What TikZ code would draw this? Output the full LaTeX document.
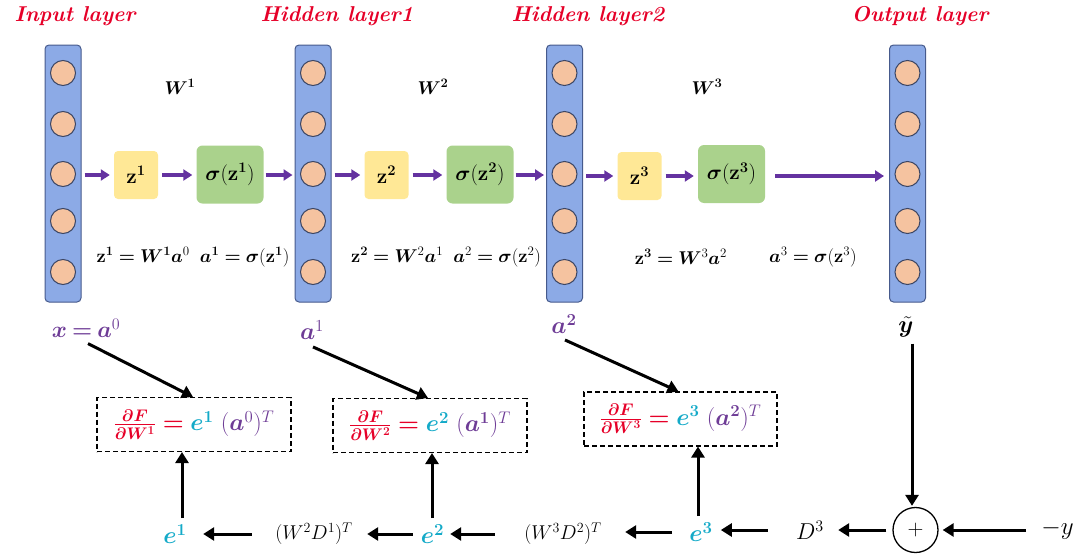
\RequirePackage{fix-cm}
\documentclass[tikz,border=0pt]{standalone}
\usepackage{amsmath,bm}
\usetikzlibrary{arrows.meta}
\definecolor{titlered}{RGB}{230,0,40}
\definecolor{arrpurple}{RGB}{100,50,160}
\definecolor{txtpurple}{RGB}{110,60,150}
\definecolor{ecyan}{RGB}{20,170,200}
\definecolor{barfill}{RGB}{140,170,230}
\definecolor{barline}{RGB}{70,90,140}
\definecolor{nfill}{RGB}{245,195,160}
\definecolor{nline}{RGB}{60,70,100}
\definecolor{zyellow}{RGB}{255,232,150}
\definecolor{sgreen}{RGB}{170,210,140}
\newcommand\myfs[1]{\fontsize{#1}{#1}\selectfont}
\tikzset{
 bar/.style={draw=barline, fill=barfill, rounded corners=4pt, minimum width=36pt, minimum height=257pt, line width=1pt, inner sep=0pt},
 neuron/.style={circle, draw=nline, fill=nfill, minimum size=25pt, inner sep=0pt, line width=1pt},
 zbox/.style={fill=zyellow, rounded corners=4pt, minimum width=44pt, minimum height=48pt, font=\myfs{21}},
 sbox/.style={fill=sgreen, rounded corners=6pt, minimum width=67pt, minimum height=58pt, font=\myfs{21}},
 parr/.style={draw=arrpurple, line width=3.5pt, -{Triangle[length=9pt,width=11pt]}},
 barr/.style={draw=black, line width=3pt, -{Triangle[length=11pt,width=13pt]}},
 title/.style={text=titlered, font=\myfs{21.5}\bfseries\itshape},
 dbox/.style={draw, dash pattern=on 5pt off 3pt, line width=1.1pt, minimum width=194pt, minimum height=54pt, inner sep=0pt, font=\myfs{24}},
 lbl/.style={inner sep=0pt, font=\myfs{20}},
 blbl/.style={inner sep=0pt, font=\myfs{24}},
 eqn/.style={inner sep=0pt, font=\myfs{18.5}},
}
\begin{document}
\begin{tikzpicture}[x=1pt,y=-1pt]
\useasboundingbox (0,0) rectangle (1080,557);
% titles
\node[title] (t0) at (75,16) {Input layer};
\node[title] (t1) at (337,16) {Hidden layer1};
\node[title] (t2) at (588,16) {Hidden layer2};
\node[title] (t3) at (920,16) {Output layer};
% bars
\foreach \n/\x in {L0/63,L1/313,L2/564.5,L3/907.5}{
  \node[bar] (\n) at (\x,173.5) {};
  \foreach \i/\y in {1/73,2/124,3/174,4/221,5/272}{
    \node[neuron] (\n c\i) at (\x,\y) {};
  }
}
% weight labels
\node[eqn] (w1) at (180,87) {$\bm{W}^{\mathbf 1}$};
\node[eqn] (w2) at (433,87) {$\bm{W}^{\mathbf 2}$};
\node[eqn] (w3) at (707,87) {$\bm{W}^{\mathbf 3}$};
% boxes
\node[zbox] (z1) at (136,175) {$\mathbf{z}^{\mathbf{1}}$};
\node[sbox] (s1) at (230,174.5) {$\bm{\sigma}(\mathbf{z}^{\mathbf{1}})$};
\node[zbox] (z2) at (386.5,175) {$\mathbf{z}^{\mathbf{2}}$};
\node[sbox] (s2) at (480,174.5) {$\bm{\sigma}(\mathbf{z}^{\mathbf{2}})$};
\node[zbox] (z3) at (639.5,176) {$\mathbf{z}^{\mathbf{3}}$};
\node[sbox] (s3) at (731.5,174) {$\bm{\sigma}(\mathbf{z}^{\mathbf{3}})$};
% purple arrows
\draw[parr, shorten <=3pt, shorten >=4pt] (L0.east |- z1) -- (z1.west);
\draw[parr, shorten <=4pt, shorten >=4pt] (z1.east) -- (s1.west |- z1);
\draw[parr, shorten <=2pt, shorten >=2pt] (s1.east |- z1) -- (L1.west |- z1);
\draw[parr, shorten <=3pt, shorten >=4pt] (L1.east |- z2) -- (z2.west);
\draw[parr, shorten <=4pt, shorten >=4pt] (z2.east) -- (s2.west |- z2);
\draw[parr, shorten <=2pt, shorten >=2pt] (s2.east |- z2) -- (L2.west |- z2);
\draw[parr, shorten <=3pt, shorten >=4pt] (L2.east |- z3) -- (z3.west);
\draw[parr, shorten <=4pt, shorten >=4pt] (z3.east) -- (s3.west |- z3);
\draw[parr, shorten <=10pt, shorten >=5pt] (s3.east |- z3) -- (L3.west |- z3);
% equations
\node[eqn] (e1q) at (193,257) {$\mathbf{z}^{\mathbf 1}\bm{=}\bm{W}^{\mathbf 1}\bm{a}^{0}\;\; \bm{a}^{\mathbf 1}\bm{=}\bm{\sigma}(\mathbf{z}^{\mathbf 1})$};
\node[eqn] (e2q) at (446,257) {$\mathbf{z}^{\mathbf 2}\bm{=}\bm{W}^{2}\bm{a}^{1}\;\; \bm{a}^{2}\bm{=}\bm{\sigma}(\mathbf{z}^{2})$};
\node[eqn] (e3q) at (681,257) {$\mathbf{z}^{\mathbf 3}\bm{=}\bm{W}^{3}\bm{a}^{2}$};
\node[eqn] (e4q) at (813,257) {$\bm{a}^{3}\bm{=}\bm{\sigma}(\mathbf{z}^{3})$};
% bottom labels
\node[blbl, font=\myfs{23}, text=txtpurple] (xa) at (86,328) {$\bm{x}\mathbin{\bm{=}}\bm{a}^{0}$};
\node[blbl, text=txtpurple] (a1) at (312,330) {$\bm{a}^{1}$};
\node[blbl, text=txtpurple] (a2) at (564,324) {$\bm{a}^{\mathbf 2}$};
\node[blbl] (yt) at (906,327) {$\tilde{\bm{y}}$};
% dashed boxes
\node[dbox] (b1) at (194,424.5) {$\color{titlered}\frac{\bm{\partial F}}{\bm{\partial W}^{\mathbf 1}}\bm{=}\color{ecyan}\bm{e}^{\mathbf 1}\ \color{txtpurple}(\bm{a}^{0})^{T}$};
\node[dbox] (b2) at (430,425.5) {$\color{titlered}\frac{\bm{\partial F}}{\bm{\partial W}^{\mathbf 2}}\bm{=}\color{ecyan}\bm{e}^{\mathbf 2}\ \color{txtpurple}(\bm{a}^{\mathbf 1})^{T}$};
\node[dbox, minimum width=193pt] (b3) at (680.5,419) {$\color{titlered}\frac{\bm{\partial F}}{\bm{\partial W}^{\mathbf 3}}\bm{=}\color{ecyan}\bm{e}^{\mathbf 3}\ \color{txtpurple}(\bm{a}^{\mathbf 2})^{T}$};
% bottom row
\node[blbl, text=ecyan, minimum width=24pt] (e1) at (175,534) {$\bm{e}^{\mathbf 1}$};
\node[lbl, minimum width=92pt] (wd1) at (314,534) {$(W^{2}D^{1})^{T}$};
\node[blbl, text=ecyan, minimum width=25pt] (e2) at (432.5,534) {$\bm{e}^{\mathbf 2}$};
\node[lbl, minimum width=100pt] (wd2) at (563,534) {$(W^{3}D^{2})^{T}$};
\node[blbl, text=ecyan, minimum width=22pt] (e3) at (701,532) {$\bm{e}^{\mathbf 3}$};
\node[lbl, font=\myfs{23}, minimum width=30pt] (d3) at (810,530) {$D^{3}$};
\node[circle, draw, line width=1.3pt, minimum size=45pt, inner sep=0pt, font=\myfs{22}] (plus) at (915.5,530) {$+$};
\node[lbl, font=\myfs{25}, minimum width=31pt] (my) at (1057.5,530) {$-y$};
% diagonal arrows
\draw[barr] ([xshift=2pt,yshift=-6pt]xa.south) -- ([xshift=-1pt]b1.north);
\draw[barr] ([xshift=1pt,yshift=-7pt]a1.south) -- ([xshift=-2pt]b2.north);
\draw[barr] ([xshift=1pt,yshift=-6pt]a2.south) -- ([xshift=-2pt]b3.north);
% up arrows
\draw[barr, shorten <=6pt] ([xshift=7pt]e1.north) -- ([xshift=7pt]e1.north |- b1.south);
\draw[barr, shorten <=6pt] ([xshift=-0.5pt]e2.north) -- ([xshift=-0.5pt]e2.north |- b2.south);
\draw[barr, shorten <=6pt] ([xshift=-3pt]e3.north) -- ([xshift=-3pt]e3.north |- b3.south);
% horizontal arrows
\draw[barr, shorten <=16pt, shorten >=16pt] (wd1.west) -- (e1.east |- wd1);
\draw[barr, shorten <=7pt, shorten >=7pt] (e2.west) -- (wd1.east |- e2);
\draw[barr, shorten <=18pt, shorten >=5pt] (wd2.west) -- (e2.east |- wd2);
\draw[barr, shorten <=17pt, shorten >=12pt] (e3.west) -- (wd2.east |- e3);
\draw[barr, shorten <=27pt, shorten >=8pt] (d3.west) -- (e3.east |- d3);
\draw[barr, shorten <=6pt, shorten >=13pt] (plus.west) -- (d3.east);
\draw[barr, shorten <=15pt, shorten >=4pt] (my.west) -- (plus.east);
\draw[barr, shorten <=6pt, shorten >=1pt] ([xshift=6pt]yt.south) -- ([xshift=6pt]yt.south |- plus.north);
\end{tikzpicture}
\end{document}
